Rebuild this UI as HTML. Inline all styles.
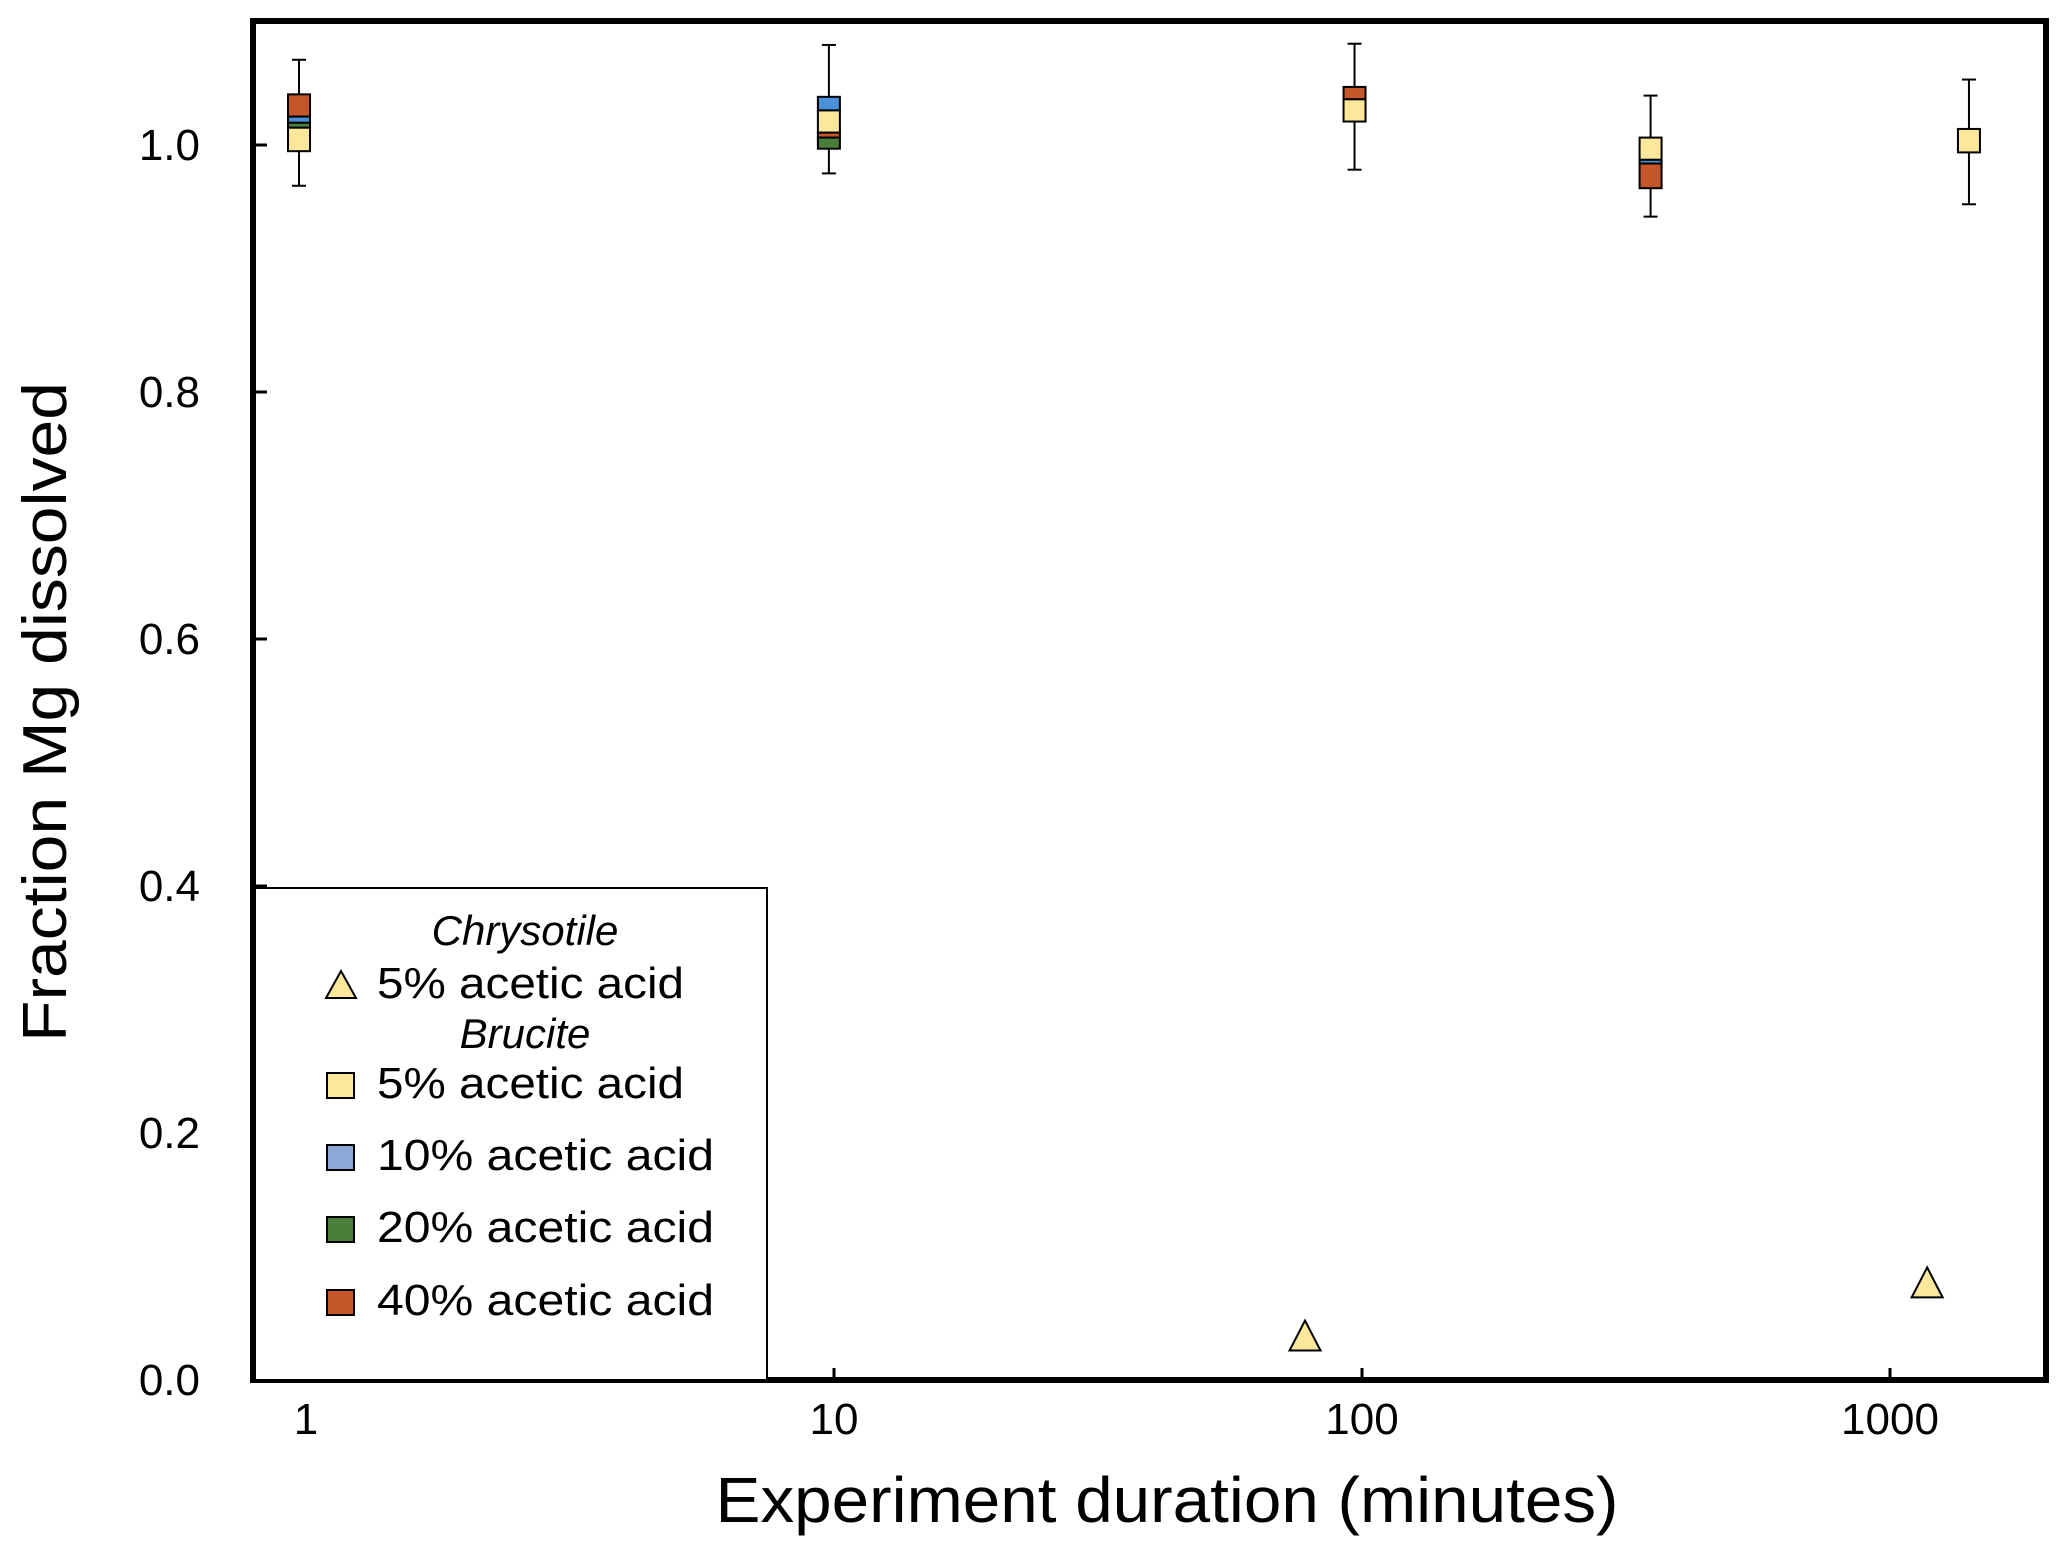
<!DOCTYPE html>
<html><head><meta charset="utf-8"><style>
html,body{margin:0;padding:0;background:#fff;}
svg{display:block;font-family:"Liberation Sans",sans-serif;}
</style></head><body>
<svg id="chart" width="2067" height="1552" viewBox="0 0 2067 1552" xmlns="http://www.w3.org/2000/svg">
<rect x="0" y="0" width="2067" height="1552" fill="#fff"/>
<g id="marks"></g>
<g id="axes"></g>
<text x="0" y="0" transform="translate(66,712) rotate(-90)" text-anchor="middle" font-size="62" textLength="660" lengthAdjust="spacingAndGlyphs">Fraction Mg dissolved</text>
<text x="1167" y="1522" text-anchor="middle" font-size="64" textLength="903" lengthAdjust="spacingAndGlyphs">Experiment duration (minutes)</text>
<g>
<rect x="255" y="888" width="512" height="492" fill="#fff" stroke="#000" stroke-width="2"/>
<text x="525" y="945" text-anchor="middle" font-size="42" font-style="italic">Chrysotile</text>
<polygon points="341,971 356,998 326,998" fill="#fce79a" stroke="#000" stroke-width="2"/>
<text x="377" y="998" font-size="44" textLength="307" lengthAdjust="spacingAndGlyphs">5% acetic acid</text>
<text x="525" y="1048" text-anchor="middle" font-size="42" font-style="italic">Brucite</text>
<rect x="327" y="1073" width="27" height="25" fill="#fce79a" stroke="#000" stroke-width="2"/>
<text x="377" y="1098" font-size="44" textLength="307" lengthAdjust="spacingAndGlyphs">5% acetic acid</text>
<rect x="327" y="1145" width="27" height="25" fill="#8aa8d8" stroke="#000" stroke-width="2"/>
<text x="377" y="1170" font-size="44" textLength="337" lengthAdjust="spacingAndGlyphs">10% acetic acid</text>
<rect x="327" y="1217" width="27" height="25" fill="#4a7f3a" stroke="#000" stroke-width="2"/>
<text x="377" y="1242" font-size="44" textLength="337" lengthAdjust="spacingAndGlyphs">20% acetic acid</text>
<rect x="327" y="1290" width="27" height="25" fill="#c5562a" stroke="#000" stroke-width="2"/>
<text x="377" y="1315" font-size="44" textLength="337" lengthAdjust="spacingAndGlyphs">40% acetic acid</text>
</g>
</svg>
<script>
// Brucite grouped boxes: x (minutes), whisker high/low, and stacked segment colours & edges
const boxTimes = [0.97, 9.78, 96.8, 352, 1411];
const whiskerHigh = [1.069, 1.081, 1.082, 1.040, 1.053];
const whiskerLow = [0.967, 0.977, 0.980, 0.942, 0.952];
const segmentSeries = [
  ["red", "blue", "green", "yellow"],
  ["blue", "yellow", "red", "green"],
  ["red", "yellow"],
  ["yellow", "blue", "red"],
  ["yellow"]
];
const segmentEdges = [
  [1.041, 1.023, 1.018, 1.014, 0.995],
  [1.039, 1.028, 1.010, 1.006, 0.997],
  [1.047, 1.037, 1.019],
  [1.006, 0.988, 0.985, 0.965],
  [1.013, 0.994]
];
// Chrysotile triangles
const chrysTimes = [78, 1176];
const chrysValues = [0.036, 0.079];
const yTicks = [0.0, 0.2, 0.4, 0.6, 0.8, 1.0];
const yTickLabels = ["0.0", "0.2", "0.4", "0.6", "0.8", "1.0"];
const xTicks = [1, 10, 100, 1000];
const xTickLabels = ["1", "10", "100", "1000"];

const colors = {yellow:"#fce79a", blue:"#4a90d9", green:"#4a7f3a", red:"#c5562a"};
const NS = "http://www.w3.org/2000/svg";
const X0 = 253, X1 = 2046, Y0 = 21, Y1 = 1380;
function xs(t){ return 306 + 528 * Math.log10(t); }
function ys(v){ return 1380 - 1235 * v; }
function mk(tag, attrs, parent){
  const e = document.createElementNS(NS, tag);
  for (const k in attrs) e.setAttribute(k, attrs[k]);
  parent.appendChild(e);
  return e;
}
const marks = document.getElementById('marks');
const axes = document.getElementById('axes');

boxTimes.forEach((t, i) => {
  const cx = xs(t), w = 22;
  const g = mk('g', {}, marks);
  
  
  const wl = mk('line', {x1:cx, x2:cx, y1:ys(whiskerHigh[i]), y2:ys(whiskerLow[i]), stroke:'#000', 'stroke-width':2}, g);
  
  
  [whiskerHigh[i], whiskerLow[i]].forEach(v => {
    const cap = mk('line', {x1:cx-7, x2:cx+7, y1:ys(v), y2:ys(v), stroke:'#000', 'stroke-width':2}, g);
    
    
  });
  const edges = segmentEdges[i];
  segmentSeries[i].forEach((c, j) => {
    const yt = ys(edges[j]), yb = ys(edges[j + 1]);
    const r = mk('rect', {x:cx-w/2, y:yt, width:w, height:Math.max(1, yb-yt), fill:colors[c], stroke:'#000', 'stroke-width':2}, g);
    
    
  });
});

chrysTimes.forEach((t, i) => {
  const cx = xs(t), cy = ys(chrysValues[i]);
  const p = mk('polygon', {points:`${cx},${cy-15} ${cx+15.5},${cy+15} ${cx-15.5},${cy+15}`, fill:'#fce79a', stroke:'#000', 'stroke-width':2}, marks);
  
  
});

// frame
const fr = mk('rect', {x:X0, y:Y0, width:X1-X0, height:Y1-Y0, fill:'none', stroke:'#000', 'stroke-width':6}, axes);



yTicks.forEach((v, i) => {
  const y = ys(v);
  const tk = mk('line', {x1:X0, x2:X0+14, y1:y, y2:y, stroke:'#000', 'stroke-width':3}, axes);
  
  
  const lb = mk('text', {x:200, y:y+15, 'text-anchor':'end', 'font-size':44}, axes);
  lb.textContent = yTickLabels[i];
  
  
});
xTicks.forEach((t, i) => {
  const x = xs(t);
  const tk = mk('line', {x1:x, x2:x, y1:Y1, y2:Y1-12, stroke:'#000', 'stroke-width':3}, axes);
  
  
  const lb = mk('text', {x:x, y:1434, 'text-anchor':'middle', 'font-size':44}, axes);
  lb.textContent = xTickLabels[i];
  
  
});
</script>
</body></html>
